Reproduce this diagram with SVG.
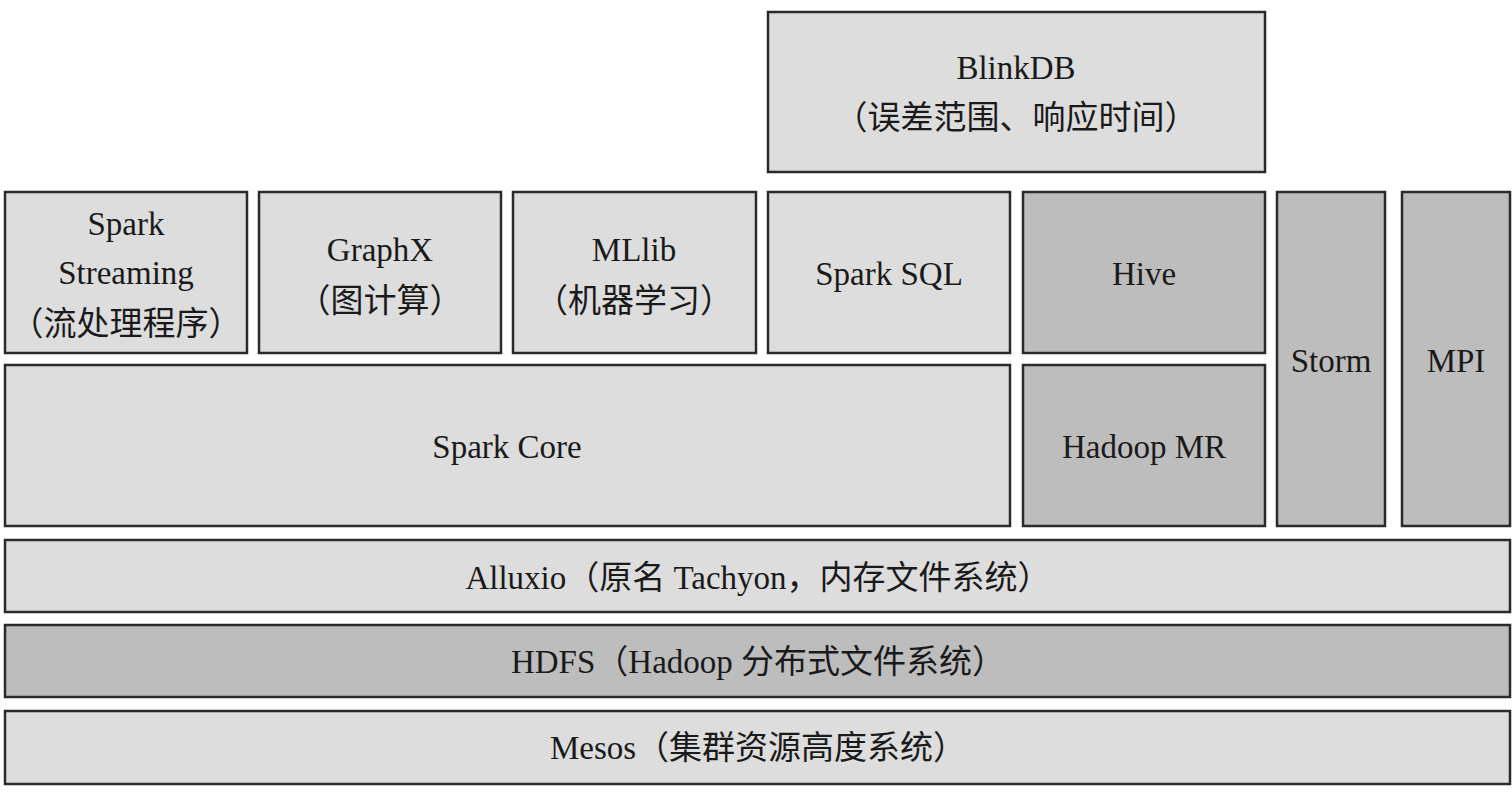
<svg xmlns="http://www.w3.org/2000/svg" width="1512" height="795" viewBox="0 0 1512 795">
<style>
.box{stroke:#2b2b2b;stroke-width:2.5}
.lt{fill:#dddddd}
.dk{fill:#bebdbd}
text{font-family:"Liberation Serif","Noto Sans CJK SC",serif;font-size:33px;fill:#1a1a1a;text-anchor:middle}
</style>
<rect width="1512" height="795" fill="#ffffff"/>
<g id="blinkdb"><rect class="box lt" x="768" y="12" width="497" height="160"/><text x="1016" y="79">BlinkDB</text><text x="1016" y="129">（误差范围、响应时间）</text></g>
<g id="spark-streaming"><rect class="box lt" x="5" y="192" width="242" height="161"/><text x="126" y="235">Spark</text><text x="126" y="284">Streaming</text><text x="126" y="335">（流处理程序）</text></g>
<g id="graphx"><rect class="box lt" x="259" y="192" width="242" height="161"/><text x="380" y="261">GraphX</text><text x="380" y="312">（图计算）</text></g>
<g id="mllib"><rect class="box lt" x="513" y="192" width="243" height="161"/><text x="634" y="261">MLlib</text><text x="634" y="312">（机器学习）</text></g>
<g id="spark-sql"><rect class="box lt" x="768" y="192" width="242" height="161"/><text x="889" y="285">Spark SQL</text></g>
<g id="hive"><rect class="box dk" x="1023" y="192" width="242" height="161"/><text x="1144" y="285">Hive</text></g>
<g id="storm"><rect class="box dk" x="1277" y="192" width="108" height="334"/><text x="1331" y="372">Storm</text></g>
<g id="mpi"><rect class="box dk" x="1402" y="192" width="108" height="334"/><text x="1456" y="372">MPI</text></g>
<g id="spark-core"><rect class="box lt" x="5" y="365" width="1005" height="161"/><text x="507" y="458">Spark Core</text></g>
<g id="hadoop-mr"><rect class="box dk" x="1023" y="365" width="242" height="161"/><text x="1144" y="458">Hadoop MR</text></g>
<g id="alluxio"><rect class="box lt" x="5" y="540" width="1505" height="72"/><text x="758" y="589">Alluxio（原名 Tachyon，内存文件系统）</text></g>
<g id="hdfs"><rect class="box dk" x="5" y="625" width="1505" height="72"/><text x="758" y="673">HDFS（Hadoop 分布式文件系统）</text></g>
<g id="mesos"><rect class="box lt" x="5" y="711" width="1505" height="73"/><text x="758" y="759">Mesos（集群资源高度系统）</text></g>
</svg>
